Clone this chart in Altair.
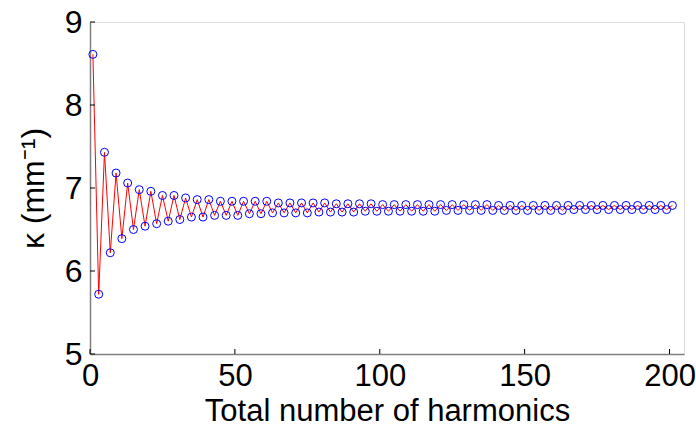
import altair as alt
import pandas as pd

harmonics = [
    1, 3, 5, 7, 9, 11, 13, 15, 17, 19,
    21, 23, 25, 27, 29, 31, 33, 35, 37, 39,
    41, 43, 45, 47, 49, 51, 53, 55, 57, 59,
    61, 63, 65, 67, 69, 71, 73, 75, 77, 79,
    81, 83, 85, 87, 89, 91, 93, 95, 97, 99,
    101, 103, 105, 107, 109, 111, 113, 115, 117, 119,
    121, 123, 125, 127, 129, 131, 133, 135, 137, 139,
    141, 143, 145, 147, 149, 151, 153, 155, 157, 159,
    161, 163, 165, 167, 169, 171, 173, 175, 177, 179,
    181, 183, 185, 187, 189, 191, 193, 195, 197, 199,
    201,
]
kappa = [
    8.61, 5.72, 7.43, 6.22, 7.18, 6.39, 7.06, 6.50, 6.98, 6.54,
    6.96, 6.57, 6.91, 6.60, 6.91, 6.62, 6.88, 6.65, 6.86, 6.65,
    6.86, 6.67, 6.84, 6.67, 6.84, 6.67, 6.84, 6.69, 6.84, 6.69,
    6.84, 6.70, 6.82, 6.70, 6.82, 6.70, 6.82, 6.70, 6.82, 6.71,
    6.82, 6.71, 6.81, 6.71, 6.81, 6.71, 6.81, 6.72, 6.81, 6.72,
    6.80, 6.72, 6.80, 6.72, 6.80, 6.72, 6.80, 6.72, 6.80, 6.72,
    6.80, 6.73, 6.80, 6.73, 6.80, 6.73, 6.80, 6.73, 6.80, 6.73,
    6.79, 6.73, 6.79, 6.73, 6.79, 6.73, 6.79, 6.73, 6.79, 6.73,
    6.79, 6.73, 6.79, 6.74, 6.79, 6.74, 6.79, 6.74, 6.79, 6.74,
    6.79, 6.74, 6.79, 6.74, 6.79, 6.74, 6.79, 6.74, 6.79, 6.74,
    6.79,
]
x_ticks = [0, 50, 100, 150, 200]
y_ticks = [5, 6, 7, 8, 9]

FONT = "Liberation Sans"
W, H = 594, 332

df = pd.DataFrame({"n": harmonics, "k": kappa})
xs = alt.Scale(domain=[0, 205], nice=False, zero=False)
ys = alt.Scale(domain=[5, 9], nice=False, zero=False)

x_enc = alt.X("n:Q", scale=xs, axis=alt.Axis(
    title="Total number of harmonics", values=x_ticks, format="d", ticks=False, grid=False,
    domainColor="#808080", domainWidth=1.5, labelFont=FONT, labelFontSize=31,
    labelColor="black", labelPadding=7, titleFont=FONT, titleFontSize=31,
    titleFontWeight="normal", titleColor="black", titlePadding=5, labelFlush=False))
y_enc = alt.Y("k:Q", scale=ys, axis=alt.Axis(
    title="κ (mm⁻¹)", values=y_ticks, format="d", ticks=False, grid=False,
    domainColor="#808080", domainWidth=1.5, labelFont=FONT, labelFontSize=32,
    labelColor="black", labelPadding=8, titleFont=FONT, titleFontSize=32,
    titleFontWeight="normal", titleColor="black", titlePadding=14, labelFlush=False))

line = alt.Chart(df).mark_line(color="#ff0000", strokeWidth=1).encode(x=x_enc, y=y_enc)
pts = alt.Chart(df).mark_point(shape="circle", filled=False, color="#0000ff",
                               size=64, strokeWidth=1, opacity=1).encode(x="n:Q", y="k:Q")

ytk = alt.Chart(pd.DataFrame({"t": y_ticks})).mark_rule(color="black", strokeWidth=1).encode(
    y=alt.Y("t:Q", scale=ys), x=alt.value(0), x2=alt.value(5))
xtk = alt.Chart(pd.DataFrame({"t": x_ticks})).mark_rule(color="black", strokeWidth=1).encode(
    x=alt.X("t:Q", scale=xs), y=alt.value(H), y2=alt.value(H - 5))

chart = alt.layer(line, pts, ytk, xtk).properties(
    width=W, height=H,
    autosize=alt.AutoSizeParams(type="none"),
    padding={"left": 90, "top": 22, "right": 12, "bottom": 82},
).configure_view(stroke=None).configure(background="white")

chart.save("out.html", embed_options={"renderer": "svg", "actions": False})
